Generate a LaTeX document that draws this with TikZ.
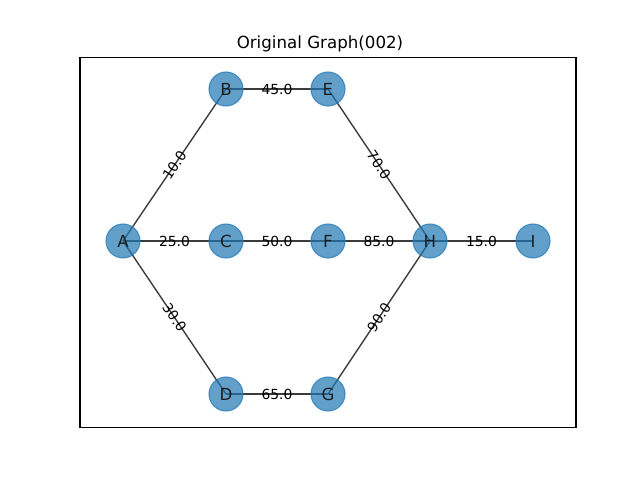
\documentclass[tikz,border=0pt]{standalone}
\usepackage{fontspec}
\setmainfont{DejaVu Sans}
\begin{document}
\begin{tikzpicture}[x=0.72bp,y=-0.72bp,
  vert/.style={circle,minimum size=24.5bp,inner sep=0pt,fill={rgb,255:red,31;green,119;blue,180},fill opacity=0.7,draw={rgb,255:red,31;green,119;blue,180},draw opacity=0.7,line width=0.8bp,text opacity=1,font=\fontsize{12bp}{14bp}\selectfont,text={rgb,255:red,30;green,30;blue,30}},
  edge/.style={draw={rgb,255:red,60;green,60;blue,60},line width=1bp},
  wlab/.style={midway,sloped,inner sep=1bp,font=\fontsize{10bp}{12bp}\selectfont,text=black}]
\useasboundingbox (0,0) rectangle (640,480);
\draw[line width=0.8bp] (80,57.6) rectangle (576,427.2);
\node[font=\fontsize{12bp}{14bp}\selectfont,anchor=base] (title) at (320,49) {Original Graph(002)};
\coordinate (pA) at (123,241);
\coordinate (pB) at (226,89);
\coordinate (pC) at (226,241);
\coordinate (pD) at (226,394);
\coordinate (pE) at (328,89);
\coordinate (pF) at (328,241);
\coordinate (pG) at (328,394);
\coordinate (pH) at (430,241);
\coordinate (pI) at (533,241);
\draw[edge] (pA) -- (pB);
\draw[edge] (pA) -- (pC);
\draw[edge] (pA) -- (pD);
\draw[edge] (pB) -- (pE);
\draw[edge] (pC) -- (pF);
\draw[edge] (pD) -- (pG);
\draw[edge] (pE) -- (pH);
\draw[edge] (pF) -- (pH);
\draw[edge] (pG) -- (pH);
\draw[edge] (pH) -- (pI);
\node[vert] (A) at (pA) {A};
\node[vert] (B) at (pB) {B};
\node[vert] (C) at (pC) {C};
\node[vert] (D) at (pD) {D};
\node[vert] (E) at (pE) {E};
\node[vert] (F) at (pF) {F};
\node[vert] (G) at (pG) {G};
\node[vert] (H) at (pH) {H};
\node[vert] (I) at (pI) {I};
\path (pA) -- node[wlab] (l1) {10.0} (pB);
\path (pA) -- node[wlab] (l2) {25.0} (pC);
\path (pA) -- node[wlab] (l3) {30.0} (pD);
\path (pB) -- node[wlab] (l4) {45.0} (pE);
\path (pC) -- node[wlab] (l5) {50.0} (pF);
\path (pD) -- node[wlab] (l6) {65.0} (pG);
\path (pE) -- node[wlab] (l7) {70.0} (pH);
\path (pF) -- node[wlab] (l8) {85.0} (pH);
\path (pG) -- node[wlab] (l9) {90.0} (pH);
\path (pH) -- node[wlab] (l10) {15.0} (pI);
\end{tikzpicture}
\end{document}
